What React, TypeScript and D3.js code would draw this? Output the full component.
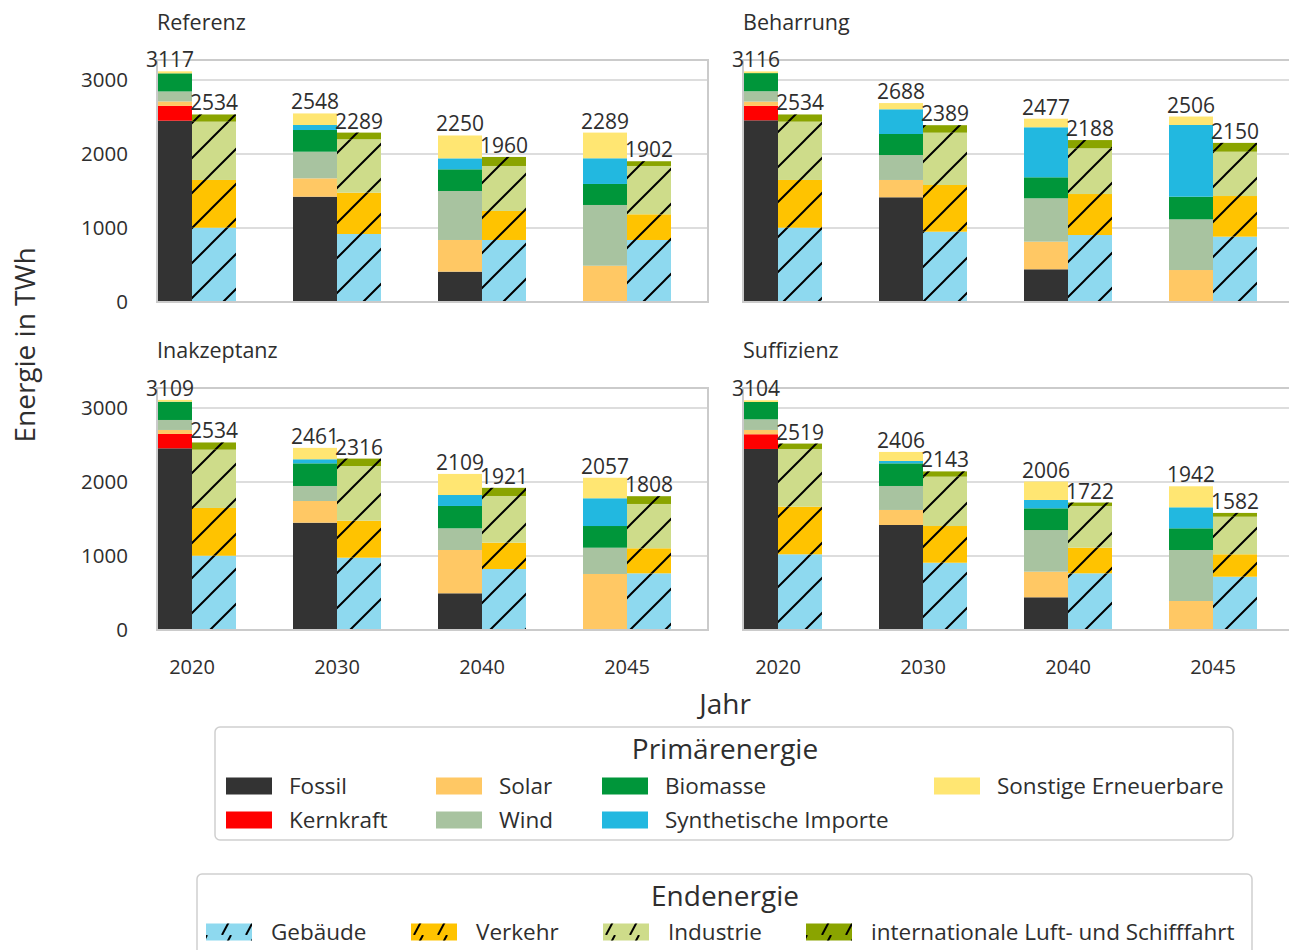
import React from 'react';
import * as d3 from 'd3';

const years = ['2020', '2030', '2040', '2045'];
const scenarios = ['Referenz', 'Beharrung', 'Inakzeptanz', 'Suffizienz'];

const primaryKeys = ['Fossil', 'Kernkraft', 'Solar', 'Wind', 'Biomasse', 'Synthetische Importe', 'Sonstige Erneuerbare'];
const primaryColors = ['#333333', '#ff0000', '#ffc864', '#a8c3a0', '#00963a', '#22b8e0', '#ffe672'];
const finalKeys = ['Gebäude', 'Verkehr', 'Industrie', 'internationale Luft- und Schifffahrt'];
const finalColors = ['#8ed9ef', '#ffc300', '#cedc8a', '#8aa400'];

// rows = primary categories, columns = years (TWh)
const referenzPrimary = [
  [2450, 1423, 410, 0],
  [200, 0, 0, 0],
  [60, 248, 428, 490],
  [135, 360, 662, 821],
  [245, 293, 293, 284],
  [0, 68, 148, 347],
  [27, 156, 309, 347],
];
const beharrungPrimary = [
  [2455, 1415, 442, 0],
  [195, 0, 0, 0],
  [58, 234, 373, 432],
  [140, 337, 586, 685],
  [245, 284, 284, 306],
  [0, 334, 676, 969],
  [23, 84, 116, 114],
];
const inakzeptanzPrimary = [
  [2455, 1450, 496, 0],
  [194, 0, 0, 0],
  [54, 293, 585, 757],
  [135, 203, 293, 355],
  [247, 306, 302, 293],
  [0, 55, 148, 375],
  [24, 154, 285, 277],
];
const suffizienzPrimary = [
  [2446, 1419, 442, 0],
  [199, 0, 0, 0],
  [58, 203, 346, 392],
  [144, 324, 563, 689],
  [234, 306, 293, 293],
  [0, 32, 113, 284],
  [23, 122, 249, 284],
];

// rows = final energy sectors, columns = years (TWh)
const referenzFinal = [
  [1004, 919, 838, 838],
  [645, 558, 392, 347],
  [788, 722, 608, 653],
  [97, 90, 122, 64],
];
const beharrungFinal = [
  [1004, 950, 905, 883],
  [645, 631, 554, 549],
  [788, 707, 618, 599],
  [97, 101, 111, 119],
];
const inakzeptanzFinal = [
  [1004, 977, 824, 766],
  [645, 500, 356, 338],
  [788, 739, 631, 599],
  [97, 100, 110, 105],
];
const suffizienzFinal = [
  [1023, 909, 766, 720],
  [643, 496, 346, 303],
  [780, 667, 564, 508],
  [73, 71, 46, 51],
];

const primaryData = [referenzPrimary, beharrungPrimary, inakzeptanzPrimary, suffizienzPrimary];
const finalData = [referenzFinal, beharrungFinal, inakzeptanzFinal, suffizienzFinal];
const yTicks = [0, 1000, 2000, 3000];

const FONT = '"Open Sans", sans-serif';
const TEXT = '#2e2e2e';
const GRID = '#d2d2d2';

const panelLayout = [
  { left: 157, right: 708, top: 60, bottom: 302 },
  { left: 743, right: 1296, top: 60, bottom: 302 },
  { left: 157, right: 708, top: 388, bottom: 630 },
  { left: 743, right: 1296, top: 388, bottom: 630 },
];
const barW = 44;

function stackRows(rows: number[][]) {
  // per year: [y0, y1] for every category
  return years.map((_, j) => {
    let acc = 0;
    return rows.map((r) => {
      const s = [acc, acc + r[j]];
      acc += r[j];
      return s;
    });
  });
}

function Panel({ idx }: { idx: number }) {
  const p = panelLayout[idx];
  const x = d3.scalePoint<string>().domain(years).range([p.left + 35, p.left + 470]);
  const y = d3.scaleLinear().domain([0, 3270]).range([p.bottom, p.top]);
  const prim = stackRows(primaryData[idx]);
  const fin = stackRows(finalData[idx]);
  const clipId = `clip${idx}`;
  const showY = idx % 2 === 0;
  const showX = idx >= 2;
  return (
    <g>
      <clipPath id={clipId}>
        <rect x={p.left} y={p.top} width={p.right - p.left} height={p.bottom - p.top} />
      </clipPath>
      {yTicks.slice(1).map((t) => (
        <line key={t} x1={p.left} x2={p.right} y1={y(t)} y2={y(t)} stroke={GRID} strokeWidth={1.5} />
      ))}
      <g clipPath={`url(#${clipId})`}>
        {years.map((yr, j) => {
          const cx = x(yr)!;
          return (
            <g key={yr}>
              {prim[j].map(([a, b], k) =>
                b > a ? (
                  <rect key={k} x={cx - barW} width={barW} y={y(b)} height={y(a) - y(b)} fill={primaryColors[k]} />
                ) : null
              )}
              {fin[j].map(([a, b], k) => (
                <g key={k}>
                  <rect x={cx} width={barW} y={y(b)} height={y(a) - y(b)} fill={finalColors[k]} />
                  <rect x={cx} width={barW} y={y(b)} height={y(a) - y(b)} fill="url(#hatch)" />
                </g>
              ))}
            </g>
          );
        })}
      </g>
      <rect x={p.left} y={p.top} width={p.right - p.left} height={p.bottom - p.top} fill="none" stroke="#cbcbcb" strokeWidth={2} />
      {years.map((yr, j) => {
        const cx = x(yr)!;
        const tp = d3.sum(primaryData[idx], (r) => r[j]);
        const tf = d3.sum(finalData[idx], (r) => r[j]);
        return (
          <g key={yr} fontFamily={FONT} fontSize={21} fill={TEXT} textAnchor="middle">
            <text x={cx - barW / 2} y={y(tp) - 4}>{Math.round(tp)}</text>
            <text x={cx + barW / 2} y={y(tf) - 4}>{Math.round(tf)}</text>
          </g>
        );
      })}
      {showY &&
        yTicks.map((t) => (
          <text key={t} x={128} y={y(t)} dy="0.35em" textAnchor="end" fontFamily={FONT} fontSize={20.5} fill={TEXT}>
            {t}
          </text>
        ))}
      {showX &&
        years.map((yr) => (
          <text key={yr} x={x(yr)} y={667} dy="0.35em" textAnchor="middle" fontFamily={FONT} fontSize={20} fill={TEXT}>
            {yr}
          </text>
        ))}
      <text x={p.left} y={p.top - 30} fontFamily={FONT} fontSize={21.5} fill={TEXT}>
        {scenarios[idx]}
      </text>
    </g>
  );
}

function Legends() {
  const primaryPos = [
    { x: 226, y: 786 },
    { x: 226, y: 820 },
    { x: 436, y: 786 },
    { x: 436, y: 820 },
    { x: 602, y: 786 },
    { x: 602, y: 820 },
    { x: 934, y: 786 },
  ];
  const finalPos = [206, 411, 603, 806];
  return (
    <g fontFamily={FONT} fill={TEXT}>
      <rect x={215} y={727} width={1018} height={113} rx={5} fill="#fff" stroke="#cfcfcf" strokeWidth={1.5} />
      <text x={725} y={749} dy="0.35em" textAnchor="middle" fontSize={28}>Primärenergie</text>
      {primaryKeys.map((k, i) => (
        <g key={k}>
          <rect x={primaryPos[i].x} y={primaryPos[i].y - 8.5} width={46} height={17} fill={primaryColors[i]} />
          <text x={primaryPos[i].x + 63} y={primaryPos[i].y} dy="0.35em" fontSize={22.5}>{k}</text>
        </g>
      ))}
      <rect x={197} y={874} width={1055} height={100} rx={5} fill="#fff" stroke="#cfcfcf" strokeWidth={1.5} />
      <text x={725} y={896} dy="0.35em" textAnchor="middle" fontSize={28}>Endenergie</text>
      {finalKeys.map((k, i) => (
        <g key={k}>
          <rect x={finalPos[i]} y={932 - 8.5} width={46} height={17} fill={finalColors[i]} />
          <rect x={finalPos[i]} y={932 - 8.5} width={46} height={17} fill="url(#hatchLegend)" />
          <text x={finalPos[i] + 65} y={932} dy="0.35em" fontSize={22.5}>{k}</text>
        </g>
      ))}
    </g>
  );
}

export default function App() {
  return (
    <svg width={1289} height={950} style={{ position: 'absolute', left: 0, top: 0, background: '#fff' }}>
      <defs>
        <pattern id="hatch" patternUnits="userSpaceOnUse" width={35} height={35}>
          <path d="M0,35 L35,0 M-5,5 L5,-5 M30,40 L40,30" stroke="#000" strokeWidth={2} />
        </pattern>
        <pattern id="hatchLegend" patternUnits="userSpaceOnUse" width={24} height={17} x={4}>
          <path d="M2,17 L11,0" stroke="#000" strokeWidth={2} />
        </pattern>
      </defs>
      {scenarios.map((_, i) => (
        <Panel key={i} idx={i} />
      ))}
      <text
        transform="translate(25,345) rotate(-90)"
        textAnchor="middle"
        dy="0.35em"
        fontFamily={FONT}
        fontSize={28}
        fill={TEXT}
      >
        Energie in TWh
      </text>
      <text x={725} y={704} dy="0.35em" textAnchor="middle" fontFamily={FONT} fontSize={28} fill={TEXT}>
        Jahr
      </text>
      <Legends />
    </svg>
  );
}
